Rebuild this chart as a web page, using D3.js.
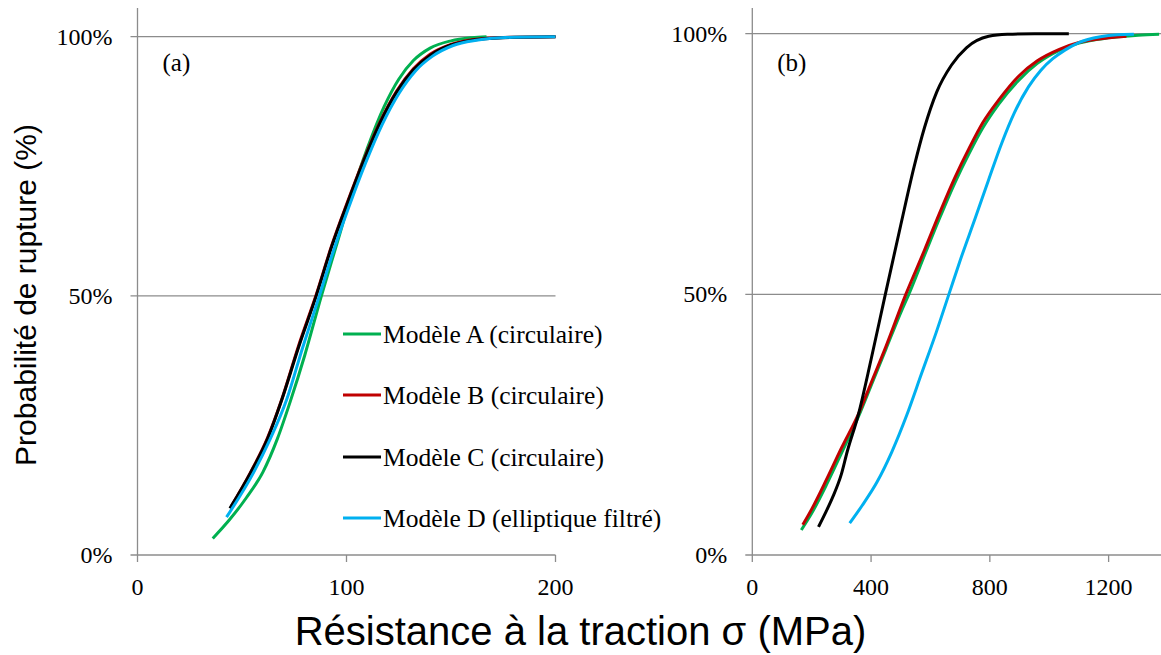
<!DOCTYPE html>
<html>
<head>
<meta charset="utf-8">
<script src="https://cdn.jsdelivr.net/npm/d3@7"></script>
<style>
  html, body { margin: 0; padding: 0; background: #fff; }
  svg { display: block; }
</style>
</head>
<body>
<svg id="chart" width="1161" height="655"></svg>
<script>
// ---------- DATA ----------
const seriesNames = ["Modèle A (circulaire)", "Modèle B (circulaire)", "Modèle C (circulaire)", "Modèle D (elliptique filtré)"];
const seriesColors = ["#00B050", "#C00000", "#000000", "#00B0F0"];

// Panel (a): [stress MPa, probability %]
const panelA_modelA = [[36,3.2],[44,6.8],[52,11],[60,16],[67,22.5],[73,29.5],[80,38.5],[88,50],[95,59.5],[102,69],[110,78.5],[118,86.5],[125,91.8],[132,95.4],[140,97.8],[150,99.2],[160,99.8],[167,100]];
const panelA_modelB = [[45,9.5],[54,15.9],[62,22.4],[69,30],[77,40.3],[85.5,50.2],[93,59.8],[100,67.6],[108,76],[116,83.5],[124,89.5],[132,93.8],[140,96.6],[150,98.5],[160,99.4],[175,99.85],[200,100]];
const panelA_modelC = [[44.2,9],[54,15.8],[62,22.2],[69,29.9],[77,40],[85.5,50],[93,59.6],[100,67.4],[108,75.8],[116,83.3],[124,89.3],[132,93.6],[140,96.4],[150,98.4],[160,99.3],[175,99.8],[200,100]];
const panelA_modelD = [[42.6,7.3],[55.4,15.8],[63.3,22.2],[71.3,29.9],[79,40],[87,50],[94,59],[101,67],[109,75.5],[117,83],[125,89],[133,93.4],[141,96.2],[151,98.3],[162,99.3],[180,99.9],[200,100]];

// Panel (b)
const panelB_modelA = [[165,4.8],[200,8],[250,13.5],[300,19.5],[357,26.5],[400,32.5],[450,39.5],[500,46.5],[527,50],[580,57.5],[630,64.5],[683,71.5],[730,77],[777,82],[830,86.5],[896,91],[960,94.3],[1034,96.8],[1100,98.2],[1200,99.2],[1300,99.7],[1370,99.9]];
const panelB_modelB = [[170,5.8],[200,8.8],[250,14.5],[300,20.5],[357,27],[400,33],[450,40],[517,50],[580,58.5],[630,65.5],[683,72.5],[730,78],[777,83],[830,87.3],[896,91.8],[960,94.8],[1034,97],[1100,98.3],[1200,99.2],[1260,99.5]];
const panelB_modelC = [[223,5.4],[250,8.5],[270,11],[300,15.5],[320,19.9],[357,26.9],[400,37.5],[448,50],[500,63.3],[545,74.5],[580,82],[621,88.8],[671,94],[721,97.3],[796,99.5],[859,99.9],[950,100],[1066,100]];
const panelB_modelD = [[328,6.1],[370,9.5],[420,14],[470,19.8],[520,26.8],[570,34.8],[620,42.8],[662,50],[700,56.5],[750,64.5],[796,72],[840,79],[884,85],[930,89.8],[972,93],[1012,95.2],[1054,96.9],[1100,98.3],[1172,99.4],[1230,99.8],[1285,99.9]];

const yTickValues = [0, 50, 100];
const yTickLabels = ["0%", "50%", "100%"];
const xTicksA = [0, 100, 200];
const xTicksB = [0, 400, 800, 1200];
const panelLabels = ["(a)", "(b)"];
const xTitle = "Résistance à la traction σ (MPa)";
const yTitle = "Probabilité de rupture (%)";

// ---------- DRAW ----------
const svg = d3.select("#chart");
const serif = "'Liberation Serif', 'Times New Roman', serif";
const sans = "'Liberation Sans', Arial, sans-serif";
const gridColor = "#8c8c8c";

const panels = [
  { x: d3.scaleLinear().domain([0, 200]).range([137.5, 555.5]),
    y: d3.scaleLinear().domain([0, 100]).range([555, 36.7]),
    xTicks: xTicksA, xEnd: 555.5,
    series: [panelA_modelA, panelA_modelB, panelA_modelC, panelA_modelD],
    label: panelLabels[0] },
  { x: d3.scaleLinear().domain([0, 1400]).range([752.3, 1168]),
    y: d3.scaleLinear().domain([0, 100]).range([555, 33.7]),
    xTicks: xTicksB, xEnd: 1161,
    series: [panelB_modelA, panelB_modelB, panelB_modelC, panelB_modelD],
    label: panelLabels[1] }
];

panels.forEach(p => {
  const g = svg.append("g");
  const x0 = p.x(0);
  yTickValues.forEach((v, i) => {
    g.append("line")
      .attr("x1", x0 - 7).attr("x2", p.xEnd)
      .attr("y1", p.y(v)).attr("y2", p.y(v))
      .attr("stroke", gridColor).attr("stroke-width", 1.3);
    g.append("text")
      .attr("x", x0 - 25).attr("y", p.y(v) + 8)
      .attr("text-anchor", "end")
      .attr("font-family", serif).attr("font-size", 24)
      .text(yTickLabels[i]);
  });
  g.append("line")
    .attr("x1", x0).attr("x2", x0)
    .attr("y1", 8).attr("y2", p.y(0))
    .attr("stroke", gridColor).attr("stroke-width", 1.3);
  p.xTicks.forEach(v => {
    g.append("line")
      .attr("x1", p.x(v)).attr("x2", p.x(v))
      .attr("y1", p.y(0)).attr("y2", p.y(0) + 7)
      .attr("stroke", gridColor).attr("stroke-width", 1.3);
    g.append("text")
      .attr("x", p.x(v)).attr("y", 595)
      .attr("text-anchor", "middle")
      .attr("font-family", serif).attr("font-size", 24)
      .text(v);
  });
  const line = d3.line().x(d => p.x(d[0])).y(d => p.y(d[1])).curve(d3.curveMonotoneX);
  p.series.forEach((s, i) => {
    g.append("path")
      .attr("d", line(s))
      .attr("fill", "none")
      .attr("stroke", seriesColors[i])
      .attr("stroke-width", 3);
  });
  g.append("text")
    .attr("x", x0 + 25).attr("y", 71)
    .attr("font-family", serif).attr("font-size", 25)
    .text(p.label);
});

// legend
const legendY = [334, 395, 457, 518];
seriesNames.forEach((name, i) => {
  svg.append("line")
    .attr("x1", 343).attr("x2", 381)
    .attr("y1", legendY[i]).attr("y2", legendY[i])
    .attr("stroke", seriesColors[i]).attr("stroke-width", 3);
  svg.append("text")
    .attr("x", 383).attr("y", legendY[i] + 8.5)
    .attr("font-family", serif).attr("font-size", 25.5)
    .text(name);
});

// axis titles
svg.append("text")
  .attr("transform", "translate(36,295) rotate(-90)")
  .attr("text-anchor", "middle")
  .attr("font-family", sans).attr("font-size", 30)
  .text(yTitle);
svg.append("text")
  .attr("x", 580.5).attr("y", 645)
  .attr("text-anchor", "middle")
  .attr("font-family", sans).attr("font-size", 40)
  .text(xTitle);
</script>
</body>
</html>
